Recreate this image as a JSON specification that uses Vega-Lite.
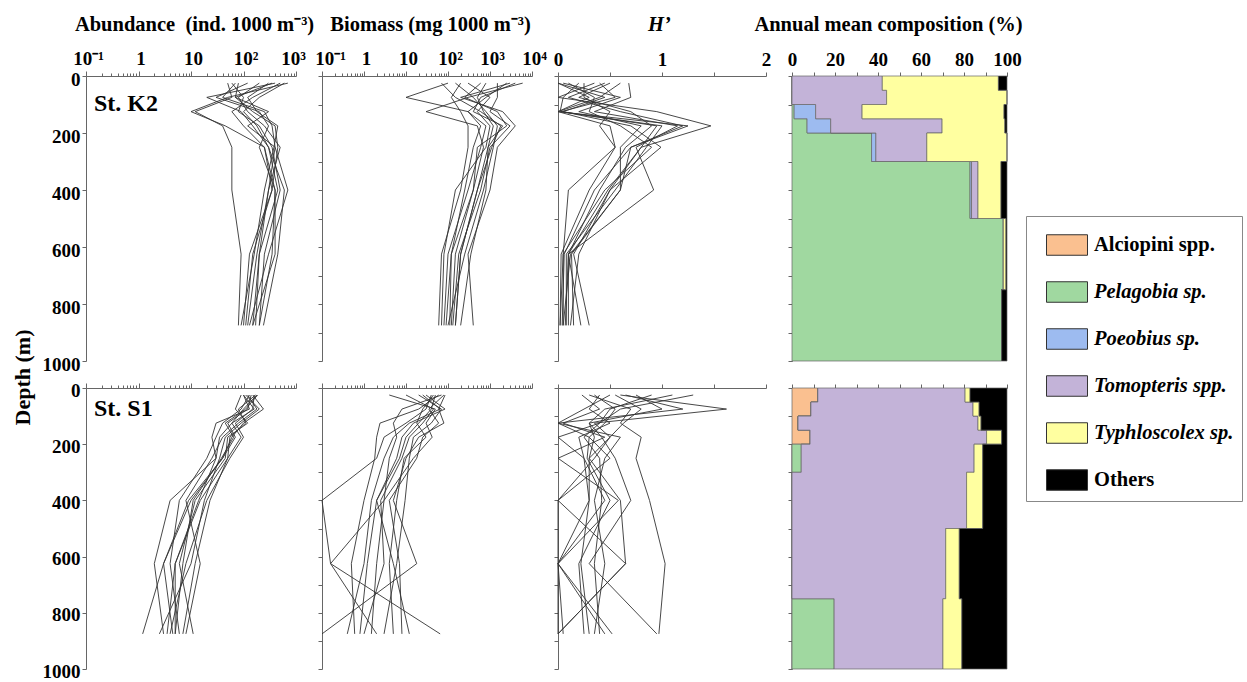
{
"$schema":"https://vega.github.io/schema/vega-lite/v6.json",
"background":"white",
"padding":{"left":11,"top":14,"right":0,"bottom":0},
"columns":4,
"spacing":{"row":27,"column":26},
"bounds":"flush",
"config":{
 "view":{"stroke":null},
 "axis":{"labelFont":"Liberation Serif","labelFontWeight":"bold","labelFontSize":19,"labelColor":"#000","titleFont":"Liberation Serif","titleFontWeight":"bold","titleFontSize":20.5,"titleColor":"#000","domainColor":"#666","domainWidth":1,"tickColor":"#666","tickWidth":1,"grid":false,"labelOverlap":false,"labelFlush":false,"labelBound":false}
},
"datasets":{
"k2":[
{"month":1,"depth":25,"abundance":50,"biomass":100,"H":0},{"month":1,"depth":75,"abundance":60,"biomass":10,"H":0.3},{"month":1,"depth":125,"abundance":12,"biomass":300,"H":0},{"month":1,"depth":175,"abundance":40,"biomass":800,"H":0.5},{"month":1,"depth":250,"abundance":60,"biomass":600,"H":0.55},{"month":1,"depth":400,"abundance":60,"biomass":300,"H":0.1},{"month":1,"depth":625,"abundance":90,"biomass":100,"H":0.05},{"month":1,"depth":875,"abundance":80,"biomass":80,"H":0.05},
{"month":2,"depth":25,"abundance":700,"biomass":6000,"H":0.35},{"month":2,"depth":75,"abundance":50,"biomass":300,"H":0},{"month":2,"depth":125,"abundance":10,"biomass":30,"H":0.95},{"month":2,"depth":175,"abundance":45,"biomass":500,"H":1.47},{"month":2,"depth":250,"abundance":250,"biomass":700,"H":0.8},{"month":2,"depth":400,"abundance":350,"biomass":400,"H":0.5},{"month":2,"depth":625,"abundance":150,"biomass":150,"H":0.15},{"month":2,"depth":875,"abundance":110,"biomass":120,"H":0.3},
{"month":3,"depth":25,"abundance":400,"biomass":4000,"H":0.6},{"month":3,"depth":75,"abundance":20,"biomass":600,"H":0.4},{"month":3,"depth":125,"abundance":90,"biomass":400,"H":0},{"month":3,"depth":175,"abundance":150,"biomass":2000,"H":1.25},{"month":3,"depth":250,"abundance":300,"biomass":900,"H":0.7},{"month":3,"depth":400,"abundance":450,"biomass":500,"H":0.6},{"month":3,"depth":625,"abundance":200,"biomass":200,"H":0.12},{"month":3,"depth":875,"abundance":150,"biomass":150,"H":0.05},
{"month":4,"depth":25,"abundance":350,"biomass":3000,"H":0.68},{"month":4,"depth":75,"abundance":70,"biomass":200,"H":0.7},{"month":4,"depth":125,"abundance":300,"biomass":2000,"H":0.35},{"month":4,"depth":175,"abundance":120,"biomass":4000,"H":1.15},{"month":4,"depth":250,"abundance":400,"biomass":1500,"H":0.75},{"month":4,"depth":400,"abundance":700,"biomass":1000,"H":0.92},{"month":4,"depth":625,"abundance":300,"biomass":300,"H":0.1},{"month":4,"depth":875,"abundance":130,"biomass":400,"H":0.22},
{"month":5,"depth":25,"abundance":60,"biomass":150,"H":0.1},{"month":5,"depth":75,"abundance":100,"biomass":400,"H":0.35},{"month":5,"depth":125,"abundance":80,"biomass":800,"H":0.3},{"month":5,"depth":175,"abundance":200,"biomass":1500,"H":0.6},{"month":5,"depth":250,"abundance":350,"biomass":1200,"H":0.9},{"month":5,"depth":400,"abundance":500,"biomass":700,"H":0.45},{"month":5,"depth":625,"abundance":250,"biomass":250,"H":0.05},{"month":5,"depth":875,"abundance":200,"biomass":100,"H":0.02},
{"month":6,"depth":25,"abundance":80,"biomass":300,"H":0.2},{"month":6,"depth":75,"abundance":70,"biomass":1000,"H":0.05},{"month":6,"depth":125,"abundance":150,"biomass":500,"H":0.02},{"month":6,"depth":175,"abundance":400,"biomass":1000,"H":1.0},{"month":6,"depth":250,"abundance":450,"biomass":800,"H":0.85},{"month":6,"depth":400,"abundance":350,"biomass":150,"H":0.55},{"month":6,"depth":625,"abundance":130,"biomass":80,"H":0.08},{"month":6,"depth":875,"abundance":100,"biomass":70,"H":0.08},
{"month":7,"depth":25,"abundance":120,"biomass":600,"H":0.5},{"month":7,"depth":75,"abundance":30,"biomass":250,"H":0.2},{"month":7,"depth":125,"abundance":200,"biomass":1500,"H":0.7},{"month":7,"depth":175,"abundance":300,"biomass":2500,"H":0.9},{"month":7,"depth":250,"abundance":200,"biomass":500,"H":0.65},{"month":7,"depth":400,"abundance":400,"biomass":400,"H":0.4},{"month":7,"depth":625,"abundance":400,"biomass":120,"H":0.1},{"month":7,"depth":875,"abundance":150,"biomass":90,"H":0.1},
{"month":8,"depth":25,"abundance":200,"biomass":1500,"H":0},{"month":8,"depth":75,"abundance":80,"biomass":1500,"H":0.45},{"month":8,"depth":125,"abundance":120,"biomass":1000,"H":0.05},{"month":8,"depth":175,"abundance":250,"biomass":3000,"H":0.7},{"month":8,"depth":250,"abundance":500,"biomass":1000,"H":0.99},{"month":8,"depth":400,"abundance":300,"biomass":600,"H":0.5},{"month":8,"depth":625,"abundance":180,"biomass":180,"H":0.2},{"month":8,"depth":875,"abundance":120,"biomass":130,"H":0.12},
{"month":9,"depth":25,"abundance":500,"biomass":200,"H":0.45},{"month":9,"depth":75,"abundance":150,"biomass":120,"H":0.1},{"month":9,"depth":125,"abundance":60,"biomass":200,"H":0.6},{"month":9,"depth":175,"abundance":100,"biomass":300,"H":1.2},{"month":9,"depth":250,"abundance":250,"biomass":300,"H":0.7},{"month":9,"depth":400,"abundance":400,"biomass":200,"H":0.35},{"month":9,"depth":625,"abundance":350,"biomass":70,"H":0.06},{"month":9,"depth":875,"abundance":200,"biomass":60,"H":0.04},
{"month":10,"depth":25,"abundance":600,"biomass":800,"H":0.05},{"month":10,"depth":75,"abundance":200,"biomass":500,"H":0.6},{"month":10,"depth":125,"abundance":100,"biomass":700,"H":0.2},{"month":10,"depth":175,"abundance":180,"biomass":1200,"H":0.8},{"month":10,"depth":250,"abundance":300,"biomass":900,"H":0.6},{"month":10,"depth":400,"abundance":600,"biomass":800,"H":0.6},{"month":10,"depth":625,"abundance":450,"biomass":350,"H":0.13},{"month":10,"depth":875,"abundance":240,"biomass":200,"H":0.15},
{"month":11,"depth":25,"abundance":70,"biomass":2500,"H":0.25},{"month":11,"depth":75,"abundance":40,"biomass":800,"H":0.25},{"month":11,"depth":125,"abundance":250,"biomass":300,"H":0.5},{"month":11,"depth":175,"abundance":350,"biomass":600,"H":0.4},{"month":11,"depth":250,"abundance":400,"biomass":400,"H":0.55},{"month":11,"depth":400,"abundance":300,"biomass":250,"H":0.3},{"month":11,"depth":625,"abundance":200,"biomass":120,"H":0.03},{"month":11,"depth":875,"abundance":170,"biomass":110,"H":0.02},
{"month":12,"depth":25,"abundance":300,"biomass":70,"H":0.4},{"month":12,"depth":75,"abundance":120,"biomass":150,"H":0.55},{"month":12,"depth":125,"abundance":180,"biomass":600,"H":0.03},{"month":12,"depth":175,"abundance":450,"biomass":1800,"H":0.95},{"month":12,"depth":250,"abundance":380,"biomass":1100,"H":0.8},{"month":12,"depth":400,"abundance":250,"biomass":500,"H":0.48},{"month":12,"depth":625,"abundance":160,"biomass":200,"H":0.1},{"month":12,"depth":875,"abundance":90,"biomass":150,"H":0.07}
],
"s1":[
{"month":1,"depth":25,"abundance":150,"biomass":40,"H":0.5},{"month":1,"depth":75,"abundance":240,"biomass":30,"H":0.25},{"month":1,"depth":125,"abundance":100,"biomass":10,"H":0},{"month":1,"depth":175,"abundance":60,"biomass":3,"H":0.3},{"month":1,"depth":250,"abundance":40,"biomass":2,"H":0.5},{"month":1,"depth":400,"abundance":10,"biomass":0.1,"H":0},{"month":1,"depth":625,"abundance":3,"biomass":0.16,"H":0},{"month":1,"depth":875,"abundance":1.2,"biomass":2,"H":0.45},
{"month":2,"depth":25,"abundance":100,"biomass":85,"H":1.3},{"month":2,"depth":75,"abundance":130,"biomass":60,"H":0.6},{"month":2,"depth":125,"abundance":30,"biomass":80,"H":0.4},{"month":2,"depth":175,"abundance":25,"biomass":20,"H":0},{"month":2,"depth":250,"abundance":30,"biomass":10,"H":0.25},{"month":2,"depth":400,"abundance":4,"biomass":5,"H":0.45},{"month":2,"depth":625,"abundance":2,"biomass":18,"H":0},{"month":2,"depth":875,"abundance":3,"biomass":0.1,"H":0.52},
{"month":3,"depth":25,"abundance":180,"biomass":4,"H":0.6},{"month":3,"depth":75,"abundance":100,"biomass":50,"H":1.62},{"month":3,"depth":125,"abundance":60,"biomass":30,"H":0.35},{"month":3,"depth":175,"abundance":90,"biomass":42,"H":0.5},{"month":3,"depth":250,"abundance":50,"biomass":15,"H":0.3},{"month":3,"depth":400,"abundance":15,"biomass":3,"H":0.6},{"month":3,"depth":625,"abundance":5,"biomass":0.16,"H":0.65},{"month":3,"depth":875,"abundance":5,"biomass":65,"H":0},
{"month":4,"depth":25,"abundance":120,"biomass":30,"H":0.3},{"month":4,"depth":75,"abundance":180,"biomass":85,"H":0.7},{"month":4,"depth":125,"abundance":80,"biomass":15,"H":0.6},{"month":4,"depth":175,"abundance":40,"biomass":8,"H":0.8},{"month":4,"depth":250,"abundance":25,"biomass":6,"H":0.75},{"month":4,"depth":400,"abundance":8,"biomass":2,"H":0.88},{"month":4,"depth":625,"abundance":15,"biomass":5,"H":1.03},{"month":4,"depth":875,"abundance":8,"biomass":12,"H":0.97},
{"month":5,"depth":25,"abundance":90,"biomass":60,"H":0.9},{"month":5,"depth":75,"abundance":70,"biomass":20,"H":0.5},{"month":5,"depth":125,"abundance":120,"biomass":2.4,"H":0.4},{"month":5,"depth":175,"abundance":50,"biomass":2,"H":0.25},{"month":5,"depth":250,"abundance":45,"biomass":1.8,"H":0.4},{"month":5,"depth":400,"abundance":12,"biomass":1,"H":0.42},{"month":5,"depth":625,"abundance":6,"biomass":0.5,"H":0.35},{"month":5,"depth":875,"abundance":11,"biomass":0.6,"H":0.4},
{"month":6,"depth":25,"abundance":160,"biomass":50,"H":0.23},{"month":6,"depth":75,"abundance":150,"biomass":40,"H":0.4},{"month":6,"depth":125,"abundance":70,"biomass":20,"H":0.05},{"month":6,"depth":175,"abundance":100,"biomass":10,"H":0.45},{"month":6,"depth":250,"abundance":55,"biomass":7,"H":0},{"month":6,"depth":400,"abundance":20,"biomass":2,"H":0.58},{"month":6,"depth":625,"abundance":8,"biomass":1.2,"H":0},{"month":6,"depth":875,"abundance":4,"biomass":0.8,"H":0.05},
{"month":7,"depth":25,"abundance":130,"biomass":20,"H":0.75},{"month":7,"depth":75,"abundance":90,"biomass":70,"H":1.0},{"month":7,"depth":125,"abundance":40,"biomass":40,"H":0.3},{"month":7,"depth":175,"abundance":30,"biomass":15,"H":0.35},{"month":7,"depth":250,"abundance":20,"biomass":12,"H":0.3},{"month":7,"depth":400,"abundance":6,"biomass":9.5,"H":0.3},{"month":7,"depth":625,"abundance":4,"biomass":6,"H":0.22},{"month":7,"depth":875,"abundance":6,"biomass":3,"H":0.3},
{"month":8,"depth":25,"abundance":110,"biomass":70,"H":0.55},{"month":8,"depth":75,"abundance":200,"biomass":8,"H":0.8},{"month":8,"depth":125,"abundance":90,"biomass":5,"H":0.63},{"month":8,"depth":175,"abundance":45,"biomass":6,"H":0.5},{"month":8,"depth":250,"abundance":35,"biomass":4,"H":0.35},{"month":8,"depth":400,"abundance":18,"biomass":3,"H":0},{"month":8,"depth":625,"abundance":10,"biomass":2,"H":0.65},{"month":8,"depth":875,"abundance":2.5,"biomass":1.5,"H":0},
{"month":9,"depth":25,"abundance":140,"biomass":10,"H":1.1},{"month":9,"depth":75,"abundance":120,"biomass":45,"H":0.45},{"month":9,"depth":125,"abundance":50,"biomass":25,"H":0.3},{"month":9,"depth":175,"abundance":70,"biomass":12,"H":0.42},{"month":9,"depth":250,"abundance":40,"biomass":8,"H":0.55},{"month":9,"depth":400,"abundance":9,"biomass":2.5,"H":0.7},{"month":9,"depth":625,"abundance":3,"biomass":3,"H":0.3},{"month":9,"depth":875,"abundance":4.5,"biomass":1,"H":0.95},
{"month":10,"depth":25,"abundance":170,"biomass":80,"H":0.4},{"month":10,"depth":75,"abundance":80,"biomass":35,"H":0.3},{"month":10,"depth":125,"abundance":110,"biomass":60,"H":0.5},{"month":10,"depth":175,"abundance":55,"biomass":25,"H":0.2},{"month":10,"depth":250,"abundance":50,"biomass":18,"H":0.25},{"month":10,"depth":400,"abundance":23,"biomass":4,"H":0.3},{"month":10,"depth":625,"abundance":12,"biomass":7,"H":0},{"month":10,"depth":875,"abundance":7,"biomass":8,"H":0},
{"month":11,"depth":25,"abundance":100,"biomass":25,"H":0.65},{"month":11,"depth":75,"abundance":160,"biomass":65,"H":1.2},{"month":11,"depth":125,"abundance":60,"biomass":12,"H":0},{"month":11,"depth":175,"abundance":35,"biomass":5,"H":0.6},{"month":11,"depth":250,"abundance":30,"biomass":3,"H":0.45},{"month":11,"depth":400,"abundance":14,"biomass":1.5,"H":0.35},{"month":11,"depth":625,"abundance":5,"biomass":1,"H":0.45},{"month":11,"depth":875,"abundance":3.5,"biomass":0.4,"H":0.35},
{"month":12,"depth":25,"abundance":186,"biomass":45,"H":0.35},{"month":12,"depth":75,"abundance":110,"biomass":25,"H":0.55},{"month":12,"depth":125,"abundance":45,"biomass":18,"H":0.45},{"month":12,"depth":175,"abundance":65,"biomass":30,"H":0.3},{"month":12,"depth":250,"abundance":38,"biomass":9,"H":0.28},{"month":12,"depth":400,"abundance":11,"biomass":6,"H":0.5},{"month":12,"depth":625,"abundance":7,"biomass":4,"H":0.2},{"month":12,"depth":875,"abundance":5,"biomass":5,"H":0.25}
],
"k2comp":[
{"species":"Pelagobia sp.","rank":2,"depth":0,"pct":0},{"species":"Pelagobia sp.","rank":2,"depth":50,"pct":0},{"species":"Pelagobia sp.","rank":2,"depth":100,"pct":1},{"species":"Pelagobia sp.","rank":2,"depth":150,"pct":7},{"species":"Pelagobia sp.","rank":2,"depth":200,"pct":37},{"species":"Pelagobia sp.","rank":2,"depth":300,"pct":82.8},{"species":"Pelagobia sp.","rank":2,"depth":500,"pct":98.3},{"species":"Pelagobia sp.","rank":2,"depth":750,"pct":97.5},{"species":"Pelagobia sp.","rank":2,"depth":1000,"pct":97.5},
{"species":"Poeobius sp.","rank":3,"depth":0,"pct":0},{"species":"Poeobius sp.","rank":3,"depth":50,"pct":0},{"species":"Poeobius sp.","rank":3,"depth":100,"pct":10},{"species":"Poeobius sp.","rank":3,"depth":150,"pct":11},{"species":"Poeobius sp.","rank":3,"depth":200,"pct":2},{"species":"Poeobius sp.","rank":3,"depth":300,"pct":0.7},{"species":"Poeobius sp.","rank":3,"depth":500,"pct":0},{"species":"Poeobius sp.","rank":3,"depth":750,"pct":0},{"species":"Poeobius sp.","rank":3,"depth":1000,"pct":0},
{"species":"Tomopteris spp.","rank":4,"depth":0,"pct":42},{"species":"Tomopteris spp.","rank":4,"depth":50,"pct":44},{"species":"Tomopteris spp.","rank":4,"depth":100,"pct":21.6},{"species":"Tomopteris spp.","rank":4,"depth":150,"pct":51.8},{"species":"Tomopteris spp.","rank":4,"depth":200,"pct":23.7},{"species":"Tomopteris spp.","rank":4,"depth":300,"pct":3},{"species":"Tomopteris spp.","rank":4,"depth":500,"pct":0},{"species":"Tomopteris spp.","rank":4,"depth":750,"pct":0},{"species":"Tomopteris spp.","rank":4,"depth":1000,"pct":0},
{"species":"Typhloscolex sp.","rank":5,"depth":0,"pct":54},{"species":"Typhloscolex sp.","rank":5,"depth":50,"pct":56},{"species":"Typhloscolex sp.","rank":5,"depth":100,"pct":66},{"species":"Typhloscolex sp.","rank":5,"depth":150,"pct":29.2},{"species":"Typhloscolex sp.","rank":5,"depth":200,"pct":37.3},{"species":"Typhloscolex sp.","rank":5,"depth":300,"pct":10.7},{"species":"Typhloscolex sp.","rank":5,"depth":500,"pct":1.2},{"species":"Typhloscolex sp.","rank":5,"depth":750,"pct":0},{"species":"Typhloscolex sp.","rank":5,"depth":1000,"pct":0},
{"species":"Others","rank":6,"depth":0,"pct":4},{"species":"Others","rank":6,"depth":50,"pct":0},{"species":"Others","rank":6,"depth":100,"pct":1.4},{"species":"Others","rank":6,"depth":150,"pct":1},{"species":"Others","rank":6,"depth":200,"pct":0},{"species":"Others","rank":6,"depth":300,"pct":2.8},{"species":"Others","rank":6,"depth":500,"pct":0.5},{"species":"Others","rank":6,"depth":750,"pct":2.5},{"species":"Others","rank":6,"depth":1000,"pct":2.5}
],
"s1comp":[
{"species":"Alciopini spp.","rank":1,"depth":0,"pct":12},{"species":"Alciopini spp.","rank":1,"depth":50,"pct":8.8},{"species":"Alciopini spp.","rank":1,"depth":100,"pct":2.8},{"species":"Alciopini spp.","rank":1,"depth":150,"pct":8.4},{"species":"Alciopini spp.","rank":1,"depth":200,"pct":0},{"species":"Alciopini spp.","rank":1,"depth":300,"pct":0},{"species":"Alciopini spp.","rank":1,"depth":500,"pct":0},{"species":"Alciopini spp.","rank":1,"depth":750,"pct":0},{"species":"Alciopini spp.","rank":1,"depth":1000,"pct":0},
{"species":"Pelagobia sp.","rank":2,"depth":0,"pct":0},{"species":"Pelagobia sp.","rank":2,"depth":50,"pct":0},{"species":"Pelagobia sp.","rank":2,"depth":100,"pct":0},{"species":"Pelagobia sp.","rank":2,"depth":150,"pct":0},{"species":"Pelagobia sp.","rank":2,"depth":200,"pct":4.3},{"species":"Pelagobia sp.","rank":2,"depth":300,"pct":0},{"species":"Pelagobia sp.","rank":2,"depth":500,"pct":0},{"species":"Pelagobia sp.","rank":2,"depth":750,"pct":19.6},{"species":"Pelagobia sp.","rank":2,"depth":1000,"pct":19.6},
{"species":"Tomopteris spp.","rank":4,"depth":0,"pct":68.5},{"species":"Tomopteris spp.","rank":4,"depth":50,"pct":75.4},{"species":"Tomopteris spp.","rank":4,"depth":100,"pct":83.7},{"species":"Tomopteris spp.","rank":4,"depth":150,"pct":82.1},{"species":"Tomopteris spp.","rank":4,"depth":200,"pct":80.4},{"species":"Tomopteris spp.","rank":4,"depth":300,"pct":81.2},{"species":"Tomopteris spp.","rank":4,"depth":500,"pct":71.5},{"species":"Tomopteris spp.","rank":4,"depth":750,"pct":50.6},{"species":"Tomopteris spp.","rank":4,"depth":1000,"pct":50.6},
{"species":"Typhloscolex sp.","rank":5,"depth":0,"pct":2.3},{"species":"Typhloscolex sp.","rank":5,"depth":50,"pct":2.8},{"species":"Typhloscolex sp.","rank":5,"depth":100,"pct":1.4},{"species":"Typhloscolex sp.","rank":5,"depth":150,"pct":7},{"species":"Typhloscolex sp.","rank":5,"depth":200,"pct":4},{"species":"Typhloscolex sp.","rank":5,"depth":300,"pct":7.5},{"species":"Typhloscolex sp.","rank":5,"depth":500,"pct":6.3},{"species":"Typhloscolex sp.","rank":5,"depth":750,"pct":8.8},{"species":"Typhloscolex sp.","rank":5,"depth":1000,"pct":8.8},
{"species":"Others","rank":6,"depth":0,"pct":17.2},{"species":"Others","rank":6,"depth":50,"pct":13},{"species":"Others","rank":6,"depth":100,"pct":12.1},{"species":"Others","rank":6,"depth":150,"pct":2.5},{"species":"Others","rank":6,"depth":200,"pct":11.3},{"species":"Others","rank":6,"depth":300,"pct":11.3},{"species":"Others","rank":6,"depth":500,"pct":22.2},{"species":"Others","rank":6,"depth":750,"pct":21},{"species":"Others","rank":6,"depth":1000,"pct":21}
]
},
"concat":[
{"width":210,"height":285,"layer":[
 {"data":{"name":"k2"},"mark":{"type":"line","color":"#333","strokeWidth":0.9},
  "encoding":{
   "x":{"field":"abundance","type":"quantitative","scale":{"type":"log","domain":[0.1,1000]},
    "axis":{"orient":"top","values":[0.1,0.2,0.3,0.4,0.5,0.6,0.7,0.8,0.9,1,2,3,4,5,6,7,8,9,10,20,30,40,50,60,70,80,90,100,200,300,400,500,600,700,800,900,1000],
     "labelExpr":"datum.value == 0.1 ? '10⁻¹' : datum.value == 1 ? '1' : datum.value == 10 ? '10' : datum.value == 100 ? '10²' : datum.value == 1000 ? '10³' : ''",
     "labelOffset":{"condition":{"test":"datum.value == 1000","value":-3},"value":2},
     "tickSize":{"condition":{"test":"datum.value == 0.1 || datum.value == 1 || datum.value == 10 || datum.value == 100 || datum.value == 1000","value":5},"value":3},
     "labelPadding":3,"title":"Abundance\u00a0 (ind. 1000 m⁻³)","titleX":108,"titleY":-46,"titleBaseline":"alphabetic"}},
   "y":{"field":"depth","type":"quantitative","scale":{"domain":[0,1000],"reverse":true,"nice":false},
    "axis":{"orient":"left","values":[0,100,200,300,400,500,600,700,800,900,1000],"labelExpr":"datum.value % 200 == 0 ? '' + datum.value : ''","tickSize":4,"labelPadding":2,"labelOffset":3,
     "title":"Depth (m)","titleX":-64,"titleY":301,"titleAngle":270,"titleBaseline":"middle","titleAlign":"center","titleFontSize":22}},
   "detail":{"field":"month"},
   "order":{"field":"depth"}}},
 {"data":{"values":[{"station":"St. K2","abundance":0.142,"depth":98}]},
  "mark":{"type":"text","align":"left","baseline":"middle","font":"Liberation Serif","fontWeight":"bold","fontSize":24,"color":"#000"},
  "encoding":{"x":{"field":"abundance","type":"quantitative"},"y":{"field":"depth","type":"quantitative"},"text":{"field":"station"}}}
]},
{"width":210,"height":285,"data":{"name":"k2"},"mark":{"type":"line","color":"#333","strokeWidth":0.9},
 "encoding":{
  "x":{"field":"biomass","type":"quantitative","scale":{"type":"log","domain":[0.1,10000]},
   "axis":{"orient":"top","values":[0.1,0.2,0.3,0.4,0.5,0.6,0.7,0.8,0.9,1,2,3,4,5,6,7,8,9,10,20,30,40,50,60,70,80,90,100,200,300,400,500,600,700,800,900,1000,2000,3000,4000,5000,6000,7000,8000,9000,10000],
    "labelExpr":"datum.value == 0.1 ? '10⁻¹' : datum.value == 1 ? '1' : datum.value == 10 ? '10' : datum.value == 100 ? '10²' : datum.value == 1000 ? '10³' : datum.value == 10000 ? '10⁴' : ''",
    "labelOffset":{"condition":{"test":"datum.value == 0.1","value":8},"value":2},
    "tickSize":{"condition":{"test":"datum.value == 0.1 || datum.value == 1 || datum.value == 10 || datum.value == 100 || datum.value == 1000 || datum.value == 10000","value":5},"value":3},
    "labelPadding":3,"title":"Biomass (mg 1000 m⁻³)","titleX":108,"titleY":-46,"titleBaseline":"alphabetic"}},
  "y":{"field":"depth","type":"quantitative","scale":{"domain":[0,1000],"reverse":true,"nice":false},
   "axis":{"orient":"left","values":[0,100,200,300,400,500,600,700,800,900,1000],"labels":false,"tickSize":4,"title":null}},
  "detail":{"field":"month"},
  "order":{"field":"depth"}}},
{"width":208,"height":285,"data":{"name":"k2"},"mark":{"type":"line","color":"#333","strokeWidth":0.9},
 "encoding":{
  "x":{"field":"H","type":"quantitative","scale":{"domain":[0,2],"nice":false},
   "axis":{"orient":"top","values":[0,0.5,1,1.5,2],"labelExpr":"datum.value % 1 == 0 ? '' + datum.value : ''","tickSize":4,"labelPadding":3,
    "title":"H’","titleFontStyle":"italic","titleX":101,"titleY":-46,"titleBaseline":"alphabetic"}},
  "y":{"field":"depth","type":"quantitative","scale":{"domain":[0,1000],"reverse":true,"nice":false},
   "axis":{"orient":"left","values":[0,100,200,300,400,500,600,700,800,900,1000],"labels":false,"tickSize":4,"title":null}},
  "detail":{"field":"month"},
  "order":{"field":"depth"}}},
{"width":215,"height":285,"data":{"name":"k2comp"},
 "mark":{"type":"area","orient":"horizontal","interpolate":"step-before","stroke":"#666","strokeWidth":0.7,"opacity":1},
 "encoding":{
  "x":{"field":"pct","type":"quantitative","stack":"zero","scale":{"domain":[0,100],"nice":false},
   "axis":{"orient":"top","values":[0,10,20,30,40,50,60,70,80,90,100],"labelExpr":"datum.value % 20 == 0 ? '' + datum.value : ''","tickSize":4,"labelPadding":3,
    "title":"Annual mean composition (%)","titleX":96,"titleY":-46,"titleBaseline":"alphabetic"}},
  "y":{"field":"depth","type":"quantitative","scale":{"domain":[0,1000],"reverse":true,"nice":false},
   "axis":{"orient":"left","values":[0,100,200,300,400,500,600,700,800,900,1000],"labels":false,"tickSize":4,"title":null}},
  "color":{"field":"species","type":"nominal",
   "scale":{"domain":["Alciopini spp.","Pelagobia sp.","Poeobius sp.","Tomopteris spp.","Typhloscolex sp.","Others"],"range":["#FAC090","#A0D8A0","#9DBBF0","#C3B3D8","#FFFFA0","#000000"]},
   "legend":{"title":null,"orient":"none","legendX":940,"legendY":140,"symbolType":"M-1,-0.5H1V0.5H-1Z","symbolSize":1681,"symbolStrokeColor":"#333","symbolStrokeWidth":1,"symbolOpacity":1,"symbolOffset":12,
    "labelFont":"Liberation Serif","labelFontWeight":"bold","labelFontSize":20.5,"labelColor":"#000","labelOffset":6,"rowPadding":13,"padding":8,"strokeColor":"#888","fillColor":"white","labelLimit":300,
    "encode":{"labels":{"update":{"fontStyle":{"signal":"datum.label == 'Others' || datum.label == 'Alciopini spp.' ? 'normal' : 'italic'"}}}}}},
  "order":{"field":"rank","type":"quantitative"}}},
{"width":210,"height":281,"layer":[
 {"data":{"name":"s1"},"mark":{"type":"line","color":"#333","strokeWidth":0.9},
  "encoding":{
   "x":{"field":"abundance","type":"quantitative","scale":{"type":"log","domain":[0.1,1000]},
    "axis":{"orient":"top","values":[0.1,0.2,0.3,0.4,0.5,0.6,0.7,0.8,0.9,1,2,3,4,5,6,7,8,9,10,20,30,40,50,60,70,80,90,100,200,300,400,500,600,700,800,900,1000],
     "labels":false,
     "tickSize":{"condition":{"test":"datum.value == 0.1 || datum.value == 1 || datum.value == 10 || datum.value == 100 || datum.value == 1000","value":5},"value":3},
     "title":null}},
   "y":{"field":"depth","type":"quantitative","scale":{"domain":[0,1000],"reverse":true,"nice":false},
    "axis":{"orient":"left","values":[0,100,200,300,400,500,600,700,800,900,1000],"labelExpr":"datum.value % 200 == 0 ? '' + datum.value : ''","tickSize":4,"labelPadding":2,"labelOffset":2,"title":null}},
   "detail":{"field":"month"},
   "order":{"field":"depth"}}},
 {"data":{"values":[{"station":"St. S1","abundance":0.142,"depth":75}]},
  "mark":{"type":"text","align":"left","baseline":"middle","font":"Liberation Serif","fontWeight":"bold","fontSize":24,"color":"#000"},
  "encoding":{"x":{"field":"abundance","type":"quantitative"},"y":{"field":"depth","type":"quantitative"},"text":{"field":"station"}}}
]},
{"width":210,"height":281,"data":{"name":"s1"},"mark":{"type":"line","color":"#333","strokeWidth":0.9},
 "encoding":{
  "x":{"field":"biomass","type":"quantitative","scale":{"type":"log","domain":[0.1,10000]},
   "axis":{"orient":"top","values":[0.1,0.2,0.3,0.4,0.5,0.6,0.7,0.8,0.9,1,2,3,4,5,6,7,8,9,10,20,30,40,50,60,70,80,90,100,200,300,400,500,600,700,800,900,1000,2000,3000,4000,5000,6000,7000,8000,9000,10000],
    "labels":false,
    "tickSize":{"condition":{"test":"datum.value == 0.1 || datum.value == 1 || datum.value == 10 || datum.value == 100 || datum.value == 1000 || datum.value == 10000","value":5},"value":3},
    "title":null}},
  "y":{"field":"depth","type":"quantitative","scale":{"domain":[0,1000],"reverse":true,"nice":false},
   "axis":{"orient":"left","values":[0,100,200,300,400,500,600,700,800,900,1000],"labels":false,"tickSize":4,"title":null}},
  "detail":{"field":"month"},
  "order":{"field":"depth"}}},
{"width":208,"height":281,"data":{"name":"s1"},"mark":{"type":"line","color":"#333","strokeWidth":0.9},
 "encoding":{
  "x":{"field":"H","type":"quantitative","scale":{"domain":[0,2],"nice":false},
   "axis":{"orient":"top","values":[0,0.5,1,1.5,2],"labels":false,"tickSize":4,"title":null}},
  "y":{"field":"depth","type":"quantitative","scale":{"domain":[0,1000],"reverse":true,"nice":false},
   "axis":{"orient":"left","values":[0,100,200,300,400,500,600,700,800,900,1000],"labels":false,"tickSize":4,"title":null}},
  "detail":{"field":"month"},
  "order":{"field":"depth"}}},
{"width":215,"height":281,"data":{"name":"s1comp"},
 "mark":{"type":"area","orient":"horizontal","interpolate":"step-before","stroke":"#666","strokeWidth":0.7,"opacity":1},
 "encoding":{
  "x":{"field":"pct","type":"quantitative","stack":"zero","scale":{"domain":[0,100],"nice":false},
   "axis":{"orient":"top","values":[0,10,20,30,40,50,60,70,80,90,100],"labels":false,"tickSize":4,"title":null}},
  "y":{"field":"depth","type":"quantitative","scale":{"domain":[0,1000],"reverse":true,"nice":false},
   "axis":{"orient":"left","values":[0,100,200,300,400,500,600,700,800,900,1000],"labels":false,"tickSize":4,"title":null}},
  "color":{"field":"species","type":"nominal",
   "scale":{"domain":["Alciopini spp.","Pelagobia sp.","Poeobius sp.","Tomopteris spp.","Typhloscolex sp.","Others"],"range":["#FAC090","#A0D8A0","#9DBBF0","#C3B3D8","#FFFFA0","#000000"]},
   "legend":{"title":null,"orient":"none","legendX":940,"legendY":140,"symbolType":"M-1,-0.5H1V0.5H-1Z","symbolSize":1681,"symbolStrokeColor":"#333","symbolStrokeWidth":1,"symbolOpacity":1,"symbolOffset":12,
    "labelFont":"Liberation Serif","labelFontWeight":"bold","labelFontSize":20.5,"labelColor":"#000","labelOffset":6,"rowPadding":13,"padding":8,"strokeColor":"#888","fillColor":"white","labelLimit":300,
    "encode":{"labels":{"update":{"fontStyle":{"signal":"datum.label == 'Others' || datum.label == 'Alciopini spp.' ? 'normal' : 'italic'"}}}}}},
  "order":{"field":"rank","type":"quantitative"}}}
]
}
